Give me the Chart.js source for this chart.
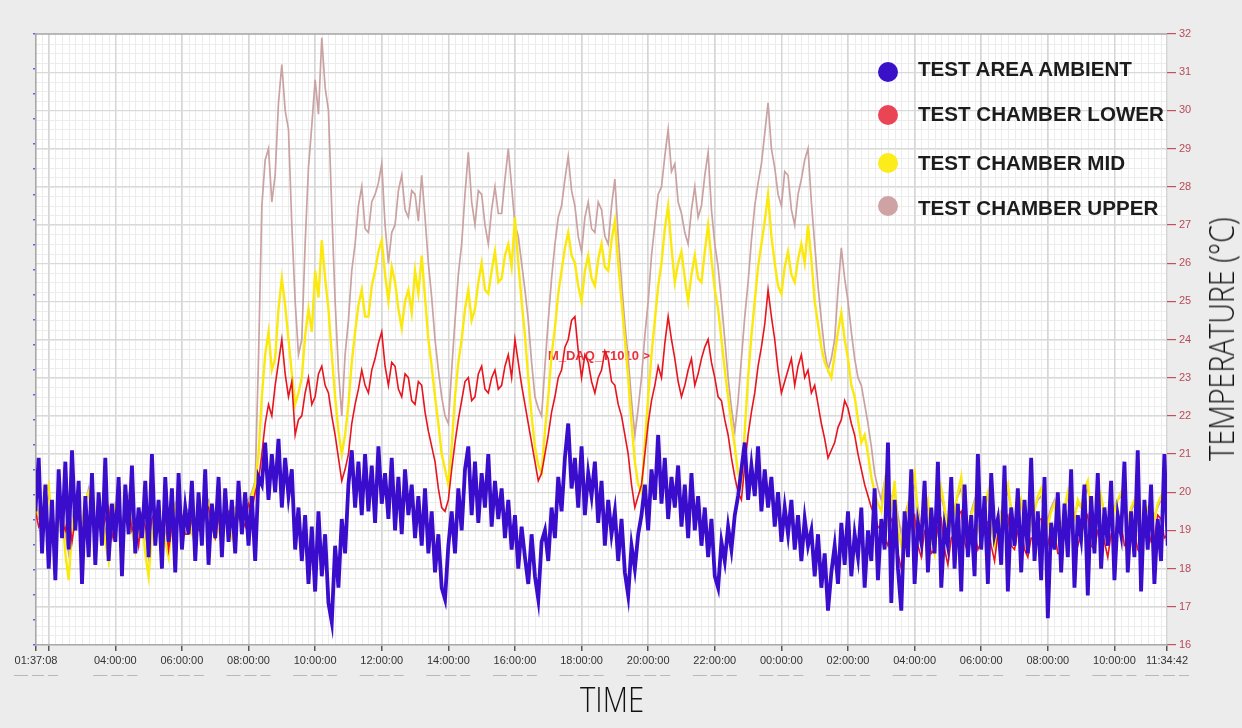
<!DOCTYPE html>
<html lang="en">
<head>
    <meta charset="UTF-8">
    <title>Test Chamber Temperatures</title>
    <script src="https://cdn.jsdelivr.net/npm/chart.js"></script>
    <style>
        body {
            margin: 0;
            padding: 0;
            background: #ececec;
            overflow: hidden;
        }

        .wrap {
            position: relative;
            width: 1242px;
            height: 728px;
        }

        /* Legend sits inside the plot, top right */
        .legend-item {
            position: absolute;
            left: 877px;
            height: 22px;
            font-family: 'Liberation Sans', Arial, sans-serif;
            font-weight: bold;
            font-size: 20.6px;
            line-height: 21px;
            color: #1c1c1c;
            white-space: nowrap;
        }
        .legend-item .dot {
            position: absolute;
            left: 1px;
            width: 20px;
            height: 20px;
            border-radius: 50%;
        }
        .legend-item .label {
            position: absolute;
            left: 41px;
            top: 0;
        }

        .axis-title {
            position: absolute;
            font-family: 'Open Sans', 'Liberation Sans', sans-serif;
            font-weight: 300;
            font-size: 34px;
            line-height: 34px;
            color: #111;
            white-space: nowrap;
        }
        #timeTitle {
            left: 612px;
            top: 682px;
            transform: translateX(-50%) scaleX(0.86);
        }
        #tempTitle {
            left: 1221px;
            top: 339px;
            transform: translate(-50%, -50%) rotate(-90deg) scaleX(0.84);
        }
    </style>
</head>
<body>

<div class="wrap">
    <canvas id="myChart" width="1242" height="728"></canvas>

    <!-- Legend -->
    <div class="legend-item" style="top:58px"><span class="dot" style="top:4px;background:#3a10c8"></span><span class="label">TEST AREA AMBIENT</span></div>
    <div class="legend-item" style="top:103px"><span class="dot" style="top:2px;background:#e94555"></span><span class="label">TEST CHAMBER LOWER</span></div>
    <div class="legend-item" style="top:152px"><span class="dot" style="top:1px;background:#fcec1a"></span><span class="label">TEST CHAMBER MID</span></div>
    <div class="legend-item" style="top:197px"><span class="dot" style="top:-1px;background:#cfa3a3"></span><span class="label">TEST CHAMBER UPPER</span></div>

    <!-- Axis titles -->
    <div class="axis-title" id="timeTitle">TIME</div>
    <div class="axis-title" id="tempTitle">TEMPERATURE (°C)</div>
</div>

<script>
    // Time axis: hours from midnight of the first day
    const startHour = 1.61889;   // 01:37:08
    const endHour = 35.57833;    // 11:34:42 next day
    const sampleStartHour = 1.6;
    const sampleStepHour = 0.1;  // one reading every 6 minutes

    const timeTickHours = [1.61889, 2, 4, 6, 8, 10, 12, 14, 16, 18, 20, 22, 24, 26, 28, 30, 32, 34, 35.57833];
    const timeTickLabels = ['01:37:08', '', '04:00:00', '06:00:00', '08:00:00', '10:00:00', '12:00:00', '14:00:00',
        '16:00:00', '18:00:00', '20:00:00', '22:00:00', '00:00:00', '02:00:00', '04:00:00', '06:00:00',
        '08:00:00', '10:00:00', '11:34:42'];

    const tempTicks = [16, 17, 18, 19, 20, 21, 22, 23, 24, 25, 26, 27, 28, 29, 30, 31, 32];

    const seriesNames = ['TEST AREA AMBIENT', 'TEST CHAMBER LOWER', 'TEST CHAMBER MID', 'TEST CHAMBER UPPER'];

    // each row = 2 hours of readings (°C)
    const ambient = [
        19.5, 20.9, 18.4, 20.2, 18.0, 19.8, 17.7, 20.6, 18.8, 20.8, 18.5, 21.1, 19.0, 20.3, 17.6, 19.9, 18.3, 20.5, 18.1, 20.0,
        18.6, 20.9, 18.2, 19.7, 18.7, 20.4, 17.8, 20.2, 18.9, 20.7, 18.4, 19.6, 18.8, 20.3, 18.3, 21.0, 18.6, 19.8, 18.0, 20.4,
        18.7, 20.1, 17.9, 20.5, 18.5, 19.6, 18.9, 20.3, 18.2, 20.0, 18.6, 20.6, 18.1, 19.7, 18.8, 20.4, 18.3, 20.1, 18.7, 19.8,
        18.4, 20.3, 18.9, 20.0, 18.6, 19.9, 18.2, 20.4, 20.2, 21.3, 19.8, 21.0, 20.0, 21.4, 19.6, 20.9, 19.9, 20.6, 18.5, 19.6,
        18.2, 19.4, 17.6, 19.1, 17.4, 19.5, 17.8, 18.9, 17.1, 16.6, 18.6, 17.5, 19.3, 18.4, 20.2, 21.1, 19.6, 20.8, 19.4, 21.0,
        19.5, 20.7, 19.2, 21.2, 19.7, 20.5, 19.3, 20.9, 19.0, 20.4, 18.9, 20.6, 19.4, 20.2, 18.8, 19.9, 18.6, 20.1, 18.4, 19.5,
        17.9, 18.9, 17.5, 17.2, 18.6, 19.5, 18.4, 20.1, 19.0, 20.6, 21.2, 19.4, 20.8, 19.2, 20.5, 19.6, 21.0, 19.1, 20.3, 19.3,
        20.1, 18.8, 19.8, 18.5, 19.4, 18.0, 19.1, 18.3, 17.6, 18.9, 17.8, 17.2, 18.7, 19.0, 18.2, 19.6, 18.8, 20.4, 19.5, 20.9,
        21.8, 20.1, 20.9, 19.6, 21.2, 19.4, 20.5, 19.9, 20.8, 19.2, 20.3, 18.6, 19.8, 18.9, 19.5, 18.2, 19.3, 17.9, 17.3, 18.6,
        18.0, 18.9, 19.4, 20.2, 19.0, 20.6, 19.8, 21.5, 19.7, 20.9, 19.3, 20.4, 19.6, 20.7, 19.1, 20.2, 18.8, 20.5, 19.0, 19.9,
        18.6, 19.6, 18.3, 19.3, 17.8, 17.5, 18.7, 18.2, 19.1, 18.5, 19.4, 19.9, 20.6, 21.3, 19.8, 20.7, 19.9, 21.2, 19.5, 20.6,
        19.6, 20.4, 19.1, 20.0, 18.7, 19.6, 18.9, 19.8, 18.5, 19.4, 18.2, 19.3, 18.6, 19.0, 17.8, 18.9, 17.5, 18.4, 16.9, 17.9,
        18.6, 17.6, 19.2, 18.1, 19.5, 17.8, 18.9, 18.3, 19.6, 17.5, 19.0, 18.2, 20.1, 17.7, 19.3, 18.5, 21.3, 17.1, 19.8, 18.0,
        16.9, 19.5, 18.3, 20.6, 17.6, 19.2, 18.7, 20.3, 17.9, 19.6, 18.4, 20.8, 17.5, 19.1, 18.6, 20.4, 18.0, 19.7, 17.4, 20.2,
        18.3, 19.4, 17.8, 21.0, 18.5, 19.9, 17.6, 20.5, 18.9, 19.3, 18.1, 20.7, 17.4, 19.6, 18.6, 20.1, 17.9, 19.8, 18.4, 20.9,
        18.2, 19.5, 17.7, 20.4, 16.7, 19.2, 18.5, 20.0, 17.9, 19.7, 18.3, 20.6, 17.5, 19.4, 18.8, 20.2, 17.3, 19.9, 18.4, 20.5,
        18.0, 19.6, 18.6, 20.3, 17.7, 19.4, 18.9, 20.8, 17.9, 19.5, 18.3, 21.1, 17.4, 19.8, 18.5, 20.2, 17.6, 19.3, 18.2, 21.0,
        18.6
    ];

    const chamberLower = [
        19.5, 19.1, 19.3, 19.8, 19.0, 19.4, 18.9, 19.6, 19.2, 19.0, 19.5, 18.7, 19.3, 19.6, 19.0, 19.2, 18.8, 19.4, 19.1, 19.5,
        19.0, 19.3, 19.6, 18.8, 19.2, 19.5, 18.9, 19.3, 19.7, 19.0, 19.2, 18.6, 19.4, 19.1, 18.7, 19.3, 19.5, 19.0, 19.2, 19.4,
        18.5, 19.1, 19.2, 19.6, 19.4, 18.9, 18.9, 19.3, 19.3, 19.0, 19.0, 19.5, 19.6, 19.1, 18.8, 19.3, 19.2, 19.6, 19.5, 19.1,
        19.0, 19.4, 19.3, 19.1, 19.7, 19.5, 20.0, 20.3, 21.0, 21.8, 22.3, 22.0, 22.8, 23.4, 24.0, 23.1, 22.5, 22.9, 21.5, 21.9,
        22.0, 22.6, 23.0, 22.3, 22.5, 23.1, 23.3, 22.8, 22.6, 22.0, 21.5, 20.9, 20.3, 20.6, 21.0, 21.8, 22.3, 22.7, 23.2, 22.8,
        22.6, 23.2, 23.5, 23.9, 24.2, 23.3, 22.8, 23.4, 23.3, 22.7, 22.5, 23.1, 23.0, 22.4, 22.3, 22.9, 22.8, 22.1, 21.6, 21.2,
        20.8, 20.1, 19.6, 19.5, 19.8, 20.6, 21.3, 21.9, 22.4, 22.9, 23.0, 22.4, 22.5, 23.1, 23.3, 22.7, 22.6, 23.0, 23.2, 22.7,
        22.8, 23.3, 23.6, 23.0, 24.0, 23.4, 22.8, 22.3, 21.8, 21.3, 20.8, 20.3, 20.5, 21.0, 21.5, 22.1, 22.5, 23.0, 23.2, 23.8,
        24.0, 24.5, 24.6, 23.7, 23.0, 23.6, 23.4, 22.9, 22.6, 23.0, 23.2, 23.7, 23.5, 22.9, 22.8, 22.3, 22.0, 21.5, 21.0, 20.2,
        19.6, 19.9, 20.2, 21.0, 21.8, 22.4, 22.8, 23.3, 23.0, 23.9, 24.6, 24.0, 23.5, 22.9, 22.5, 22.8, 23.2, 23.5, 22.8, 23.1,
        23.5, 23.8, 24.0, 23.4, 23.0, 22.5, 22.4, 21.9, 21.5, 20.9, 20.4, 20.0, 19.8, 20.7, 21.5, 22.1, 22.6, 23.3, 23.8, 24.4,
        25.3, 24.6, 24.0, 23.2, 22.6, 22.9, 23.2, 23.5, 22.8, 23.3, 23.6, 23.0, 23.2, 22.6, 22.8, 22.3, 21.8, 21.4, 20.9, 21.1,
        21.3, 21.7, 21.9, 22.4, 22.2, 21.8, 21.5, 21.0, 20.6, 20.2, 19.9, 19.6, 19.4, 19.1, 19.0, 18.8, 18.6, 19.3, 19.2, 18.4,
        18.0, 18.7, 18.8, 19.3, 19.4, 18.6, 18.3, 19.0, 19.0, 18.4, 18.5, 19.1, 19.3, 18.5, 18.1, 18.8, 18.9, 19.4, 19.5, 18.7,
        18.4, 19.0, 19.0, 18.5, 18.7, 19.3, 19.2, 18.6, 18.2, 18.9, 18.9, 19.3, 19.4, 18.6, 18.5, 19.0, 19.1, 18.5, 18.3, 18.8,
        18.8, 19.3, 19.3, 18.7, 18.6, 19.1, 19.0, 18.4, 18.4, 18.9, 19.2, 19.4, 18.7, 18.6, 18.9, 19.2, 19.4, 18.6, 18.5, 19.0,
        19.1, 18.7, 18.3, 18.9, 18.8, 19.3, 19.2, 18.6, 18.6, 19.0, 19.0, 18.5, 18.4, 19.2, 19.1, 18.7, 18.8, 19.4, 19.3, 18.8,
        18.9
    ];

    const chamberMid = [
        19.8, 19.4, 19.3, 20.0, 20.2, 19.1, 18.6, 19.3, 19.5, 18.4, 17.7, 19.0, 19.7, 19.5, 19.2, 19.8, 20.0, 19.3, 18.9, 19.4,
        19.4, 18.7, 18.2, 19.1, 19.6, 19.3, 19.0, 19.6, 19.8, 19.0, 18.5, 19.2, 19.3, 18.4, 17.8, 18.9, 19.5, 19.3, 19.1, 18.7,
        18.3, 19.2, 19.6, 19.3, 19.0, 19.5, 19.4, 18.9, 18.7, 19.4, 19.2, 19.8, 19.7, 19.2, 18.8, 19.0, 19.3, 19.6, 19.0, 18.8,
        19.5, 19.3, 19.2, 19.7, 19.6, 19.9, 20.2, 21.0, 22.5, 23.6, 24.2, 23.2, 23.5, 24.8, 25.6, 24.9, 24.0, 23.1, 22.3, 22.6,
        23.0, 24.1, 24.8, 24.2, 25.8, 25.1, 26.6, 25.6, 24.8, 23.6, 22.5, 21.6, 21.0, 21.5, 22.3, 23.4, 24.2, 24.9, 25.3, 24.6,
        24.6, 25.4, 25.8, 26.3, 26.6, 25.7, 25.0, 25.9, 25.5, 24.8, 24.3, 25.0, 25.3, 24.7, 25.8, 25.2, 26.2, 25.1, 24.0, 23.3,
        22.5, 21.8, 21.0, 20.6, 20.2, 21.2, 22.5, 23.4, 24.0, 24.8, 25.3, 24.5, 24.8, 25.5, 26.0, 25.3, 25.2, 25.8, 26.3, 25.5,
        25.6, 26.2, 26.5, 25.9, 27.2, 26.0, 25.0, 24.1, 23.0, 22.0, 21.2, 20.7, 20.5, 21.6, 22.5, 23.6, 24.3, 25.2, 25.8, 26.4,
        26.8, 26.2, 26.0, 25.4, 25.0, 25.8, 26.2, 25.6, 25.4, 26.1, 26.5, 25.9, 25.8, 26.6, 27.1, 26.0, 25.0, 24.0, 23.0, 21.8,
        20.8, 20.2, 20.0, 21.3, 22.5, 23.6, 24.5, 25.4, 26.0, 26.9, 27.5, 26.4, 25.5, 26.0, 26.3, 25.6, 25.0, 25.7, 26.2, 25.6,
        25.5, 26.3, 27.0, 26.1, 25.3, 24.8, 24.0, 23.2, 22.5, 21.8, 21.2, 20.5, 20.2, 21.6, 23.0, 24.1, 25.0, 25.9, 26.5, 27.1,
        27.8, 26.7, 26.0, 25.4, 25.2, 25.9, 26.3, 25.7, 25.5, 26.1, 26.5, 26.0, 27.0, 26.1, 25.0, 24.4, 23.8, 23.4, 23.2, 23.0,
        23.6, 24.2, 24.7, 24.0, 23.5, 22.8, 22.5, 21.9, 21.3, 21.5, 21.0, 20.4, 20.0, 19.7, 19.5, 20.2, 19.2, 19.6, 20.3, 19.0,
        18.6, 19.3, 19.6, 20.2, 20.5, 19.4, 18.9, 19.5, 19.8, 18.8, 18.4, 19.3, 20.1, 19.6, 19.0, 19.2, 19.5, 20.0, 20.4, 19.3,
        18.8, 19.4, 19.7, 19.0, 19.2, 19.7, 20.0, 19.1, 18.6, 18.9, 19.4, 19.9, 20.2, 19.5, 19.0, 19.4, 19.8, 19.2, 18.7, 19.3,
        19.5, 19.9, 20.1, 19.4, 19.1, 19.5, 19.7, 19.2, 18.9, 19.6, 20.0, 19.4, 19.3, 19.8, 19.6, 20.1, 20.3, 19.3, 18.8, 19.4,
        19.9, 19.4, 19.0, 19.3, 19.5, 19.8, 20.0, 19.5, 19.2, 19.6, 19.8, 19.2, 18.9, 19.4, 19.6, 19.2, 19.3, 19.7, 19.9, 19.5,
        19.4
    ];

    const chamberUpper = [
        19.6, 19.3, 19.4, 19.7, 19.9, 19.4, 19.1, 19.5, 19.6, 18.9, 18.4, 19.2, 19.8, 19.5, 19.3, 19.7, 20.1, 19.6, 19.0, 19.3,
        19.5, 19.0, 18.6, 19.3, 19.7, 19.5, 19.2, 19.6, 19.9, 19.3, 18.8, 19.2, 19.4, 18.9, 18.3, 19.0, 19.6, 19.4, 19.2, 19.0,
        18.6, 19.3, 19.7, 19.4, 19.1, 19.6, 19.5, 19.0, 18.9, 19.4, 19.3, 19.7, 19.8, 19.2, 18.9, 19.3, 19.4, 19.6, 19.1, 19.4,
        19.6, 19.4, 19.3, 19.8, 19.8, 20.0, 20.3, 23.5, 27.5, 28.7, 29.0, 27.6, 28.3, 30.2, 31.2, 30.0, 29.5, 27.0, 25.0, 23.6,
        24.0, 26.5, 28.5, 29.6, 30.8, 29.9, 31.9, 30.6, 30.0, 27.4, 25.0, 23.2, 22.0, 23.6, 24.5, 25.8, 26.5, 27.5, 28.0, 26.9,
        26.8, 27.6, 27.8, 28.1, 28.6, 27.0, 26.0, 26.8, 27.0, 27.9, 28.3, 27.4, 27.2, 27.9, 27.8, 27.1, 28.3, 27.2, 26.0, 25.1,
        24.0, 23.2, 22.5, 22.0, 21.8, 23.2, 24.5, 25.7, 26.5, 27.8, 28.9, 27.6, 27.0, 27.9, 27.8, 27.0, 26.5, 27.4, 28.0, 27.3,
        27.3, 28.2, 29.0, 28.0, 27.0, 26.7, 26.0, 25.3, 24.5, 23.4, 22.5, 22.2, 22.0, 23.3, 24.5, 25.6, 26.5, 27.2, 27.5, 28.2,
        28.8, 27.9, 27.5, 26.7, 26.3, 27.2, 27.6, 26.9, 26.8, 27.6, 27.4, 26.7, 26.5, 27.5, 28.2, 26.7, 25.5, 24.4, 23.5, 22.4,
        21.5, 22.2, 23.0, 24.1, 25.0, 26.2, 27.0, 27.8, 28.0, 28.8, 29.5, 28.4, 28.6, 27.6, 27.3, 26.8, 26.5, 27.4, 28.0, 27.2,
        27.5, 28.3, 28.9, 27.4, 26.5, 25.9, 25.0, 24.0, 23.0, 22.2, 21.6, 22.4, 23.5, 24.6, 25.5, 26.6, 27.5, 28.1, 28.6, 29.4,
        30.2, 29.0, 28.5, 27.8, 27.5, 28.4, 28.3, 27.4, 27.0, 27.8, 28.2, 28.7, 29.0, 27.6, 26.5, 25.4, 24.5, 23.7, 23.2, 23.5,
        24.0, 25.3, 26.4, 25.6, 25.0, 24.2, 23.5, 23.0, 22.8, 22.3, 21.8, 21.2, 20.5, 20.1, 19.8, 20.3, 19.5, 19.9, 20.0, 19.4,
        18.9, 19.4, 19.7, 20.0, 20.2, 19.6, 19.1, 19.4, 19.6, 19.0, 18.7, 19.3, 19.9, 19.5, 19.2, 19.4, 19.6, 19.9, 20.1, 19.5,
        19.0, 19.5, 19.8, 19.4, 19.3, 19.6, 19.9, 19.4, 18.9, 19.2, 19.5, 19.8, 20.0, 19.6, 19.2, 19.5, 19.7, 19.3, 19.0, 19.4,
        19.6, 19.8, 19.9, 19.5, 19.3, 19.6, 19.8, 19.4, 19.1, 19.5, 19.9, 19.6, 19.4, 19.7, 19.6, 19.9, 20.1, 19.5, 19.0, 19.4,
        19.8, 19.5, 19.2, 19.4, 19.6, 19.8, 19.9, 19.6, 19.3, 19.5, 19.7, 19.4, 19.1, 19.3, 19.6, 19.5, 19.4, 19.6, 19.8, 19.6,
        19.5
    ];

    function toPoints(values) {
        return values.map((v, i) => ({ x: sampleStartHour + i * sampleStepHour, y: v }));
    }

    // White plot area + fine grid underneath the main grid
    const plotBackground = {
        id: 'plotBackground',
        beforeDraw(chart) {
            const { ctx, chartArea: a, scales } = chart;
            ctx.save();
            ctx.fillStyle = '#ffffff';
            ctx.fillRect(a.left, a.top, a.right - a.left, a.bottom - a.top);
            ctx.strokeStyle = '#ececec';
            ctx.lineWidth = 1;
            ctx.beginPath();
            for (let h = 1.8; h < endHour; h += 0.2) {
                const px = Math.round(scales.x.getPixelForValue(h)) + 0.5;
                ctx.moveTo(px, a.top);
                ctx.lineTo(px, a.bottom);
            }
            for (let t = 16.25; t < 32; t += 0.25) {
                const py = Math.round(scales.y.getPixelForValue(t)) + 0.5;
                ctx.moveTo(a.left, py);
                ctx.lineTo(a.right, py);
            }
            ctx.stroke();
            ctx.restore();
        },
        beforeDatasetsDraw(chart) {
            // logger channel tag, sits under the traces
            const { ctx, scales } = chart;
            ctx.save();
            ctx.font = 'bold 13px Arial, sans-serif';
            ctx.fillStyle = '#e8323c';
            ctx.textBaseline = 'middle';
            ctx.fillText('M_DAQ_T1010 >', scales.x.getPixelForValue(16.99), scales.y.getPixelForValue(23.56));
            ctx.restore();
        },
        afterDraw(chart) {
            const { ctx, chartArea: a, scales } = chart;
            ctx.save();
            // plot frame
            ctx.strokeStyle = '#a9a9a9';
            ctx.lineWidth = 1.5;
            ctx.beginPath();
            ctx.moveTo(a.left, a.top);
            ctx.lineTo(a.right, a.top);
            ctx.stroke();
            // faint date marks under the time labels
            ctx.strokeStyle = '#b8b8b8';
            ctx.lineWidth = 1;
            ctx.beginPath();
            timeTickHours.forEach((h, i) => {
                if (!timeTickLabels[i]) return;
                const cx = scales.x.getPixelForValue(h);
                [[-22, -8], [-4, 8], [12, 22]].forEach(seg => {
                    ctx.moveTo(cx + seg[0], 675.5);
                    ctx.lineTo(cx + seg[1], 675.5);
                });
            });
            ctx.stroke();
            ctx.restore();
        }
    };

    const ctx = document.getElementById('myChart').getContext('2d');

    const chart = new Chart(ctx, {
        type: 'line',
        data: {
            datasets: [
                { label: seriesNames[0], data: toPoints(ambient), borderColor: '#3a0ccc', borderWidth: 3.8 },
                { label: seriesNames[1], data: toPoints(chamberLower), borderColor: '#e8141e', borderWidth: 1.6 },
                { label: seriesNames[2], data: toPoints(chamberMid), borderColor: '#fbe80c', borderWidth: 2.4 },
                { label: seriesNames[3], data: toPoints(chamberUpper), borderColor: '#caa2a2', borderWidth: 1.7 }
            ]
        },
        options: {
            responsive: false,
            animation: false,
            devicePixelRatio: 1,
            layout: { padding: { top: 34, left: 0, right: 0, bottom: 0 } },
            elements: {
                point: { radius: 0 },
                line: { tension: 0 }
            },
            plugins: {
                legend: { display: false },
                tooltip: { enabled: false }
            },
            scales: {
                x: {
                    type: 'linear',
                    min: startHour,
                    max: endHour,
                    afterBuildTicks(scale) {
                        scale.ticks = timeTickHours.map(v => ({ value: v }));
                    },
                    afterFit(scale) { scale.height = 83; },
                    ticks: {
                        autoSkip: false,
                        maxRotation: 0,
                        padding: 3,
                        color: '#333',
                        font: { family: 'Arial, sans-serif', size: 11 },
                        callback: (v, i) => timeTickLabels[i]
                    },
                    grid: { color: '#d6d6d6', lineWidth: 1.5, tickColor: '#555', tickLength: 6 },
                    border: { color: '#a9a9a9', width: 1.5 }
                },
                y: {
                    position: 'right',
                    min: 16,
                    max: 32,
                    afterBuildTicks(scale) {
                        scale.ticks = tempTicks.map(v => ({ value: v }));
                    },
                    afterFit(scale) { scale.width = 75; },
                    ticks: {
                        padding: 3,
                        color: '#b84a58',
                        font: { family: 'Arial, sans-serif', size: 11 },
                        callback: v => String(v)
                    },
                    grid: { color: '#d9d9d9', lineWidth: 1.2, tickColor: '#c4505e', tickLength: 9 },
                    border: { display: false }
                },
                yLeft: {
                    position: 'left',
                    min: 0,
                    max: 24.4,
                    afterFit(scale) { scale.width = 36; },
                    ticks: { display: false, stepSize: 1 },
                    grid: { drawOnChartArea: false, tickColor: '#6a60dd', tickLength: 3, lineWidth: 1.5 },
                    border: { color: '#a9a9a9', width: 1.5 }
                }
            }
        },
        plugins: [plotBackground]
    });
</script>

</body>
</html>
